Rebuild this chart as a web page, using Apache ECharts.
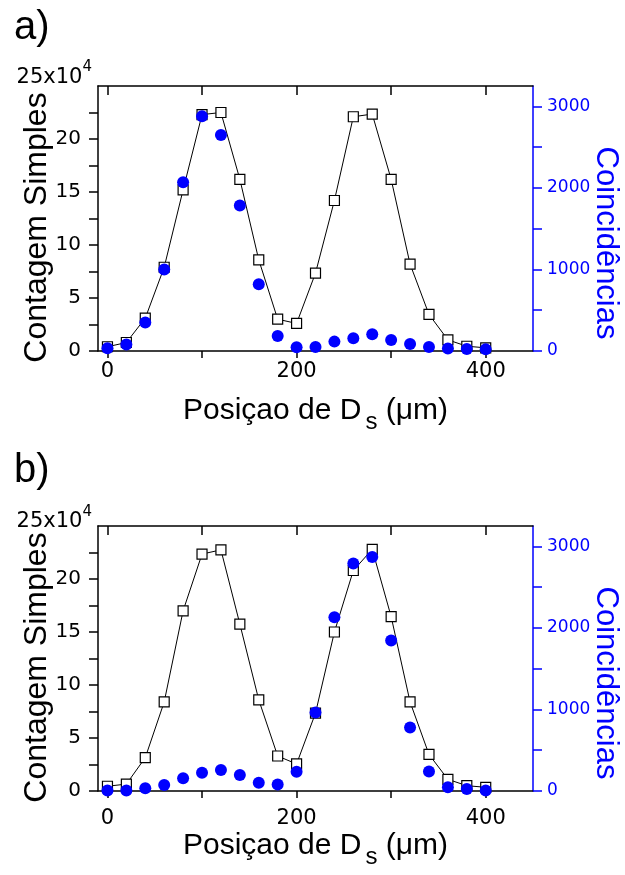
<!DOCTYPE html>
<html>
<head>
<meta charset="utf-8">
<title>Contagem simples e coincidências</title>
<script src="https://cdn.jsdelivr.net/npm/echarts@6.0.0/dist/echarts.min.js"></script>
<style>
  html, body { margin: 0; padding: 0; background: #fff; }
  #chart { width: 625px; height: 875px; }
</style>
</head>
<body>
<div id="chart"></div>
<script>
// posição do detector D_s (µm)
const positions = [0, 20, 40, 60, 80, 100, 120, 140, 160, 180, 200, 220, 240, 260, 280, 300, 320, 340, 360, 380, 400];
// a) contagens simples (x10^4) e coincidências
const singlesA = [0.4, 0.8, 3.1, 7.9, 15.2, 22.3, 22.5, 16.2, 8.6, 3.0, 2.6, 7.35, 14.2, 22.1, 22.35, 16.2, 8.2, 3.45, 1.05, 0.45, 0.3];
const coincA = [35, 80, 350, 1000, 2070, 2880, 2650, 1785, 820, 185, 45, 50, 115, 155, 205, 135, 85, 50, 30, 25, 20];
// b)
const singlesB = [0.45, 0.65, 3.15, 8.4, 17.0, 22.35, 22.75, 15.75, 8.6, 3.3, 2.55, 7.35, 15.0, 20.8, 22.8, 16.45, 8.4, 3.45, 1.1, 0.5, 0.35];
const coincB = [5, 5, 33, 75, 155, 225, 258, 197, 100, 80, 237, 963, 2130, 2790, 2870, 1845, 780, 238, 45, 25, 5];

const xTicks = [0, 100, 200, 300, 400];
const xLabels = [0, 200, 400];
const leftTicks = [0, 2.5, 5, 7.5, 10, 12.5, 15, 17.5, 20, 22.5];
const leftLabels = [0, 5, 10, 15, 20];
const rightTicks = [0, 500, 1000, 1500, 2000, 2500, 3000];
const rightLabels = [0, 1000, 2000, 3000];

const BLUE = '#0000ff';
const titleFont = '"Liberation Sans", Arial, sans-serif';
const tickFont = '"DejaVu Sans", sans-serif';

const chart = echarts.init(document.getElementById('chart'));

function pairs(ys) {
  return positions.map((x, i) => [x, ys[i]]);
}

function xAxes(grid, labelMargin, nameGap) {
  return [{
    type: 'value', gridIndex: grid, position: 'bottom', min: -10, max: 450,
    axisLine: { show: true, onZero: false, lineStyle: { color: '#000', width: 1.5 } },
    axisTick: { show: true, inside: false, length: 7, customValues: xTicks, lineStyle: { color: '#000', width: 1.5 } },
    axisLabel: { customValues: xLabels, margin: labelMargin, color: '#000', fontFamily: tickFont, fontSize: 21, formatter: v => String(v) },
    splitLine: { show: false },
    name: '{n|Posiçao de D}{s|s}{n| (μm)}',
    nameLocation: 'middle',
    nameGap: nameGap,
    nameMoveOverlap: false,
    nameTextStyle: {
      rich: {
        n: { fontFamily: titleFont, fontSize: 30, color: '#000' },
        s: { fontFamily: titleFont, fontSize: 24, color: '#000', padding: [22, 0, 0, 4] }
      }
    }
  }, {
    type: 'value', gridIndex: grid, position: 'top', min: -10, max: 450,
    axisLine: { show: true, onZero: false, lineStyle: { color: '#000', width: 1.5 } },
    axisTick: { show: true, inside: true, length: 9, customValues: xTicks, lineStyle: { color: '#000', width: 1.5 } },
    axisLabel: { show: false },
    splitLine: { show: false }
  }];
}

function yAxes(grid) {
  return [{
    type: 'value', gridIndex: grid, position: 'left', min: 0, max: 25,
    axisLine: { show: true, onZero: false, lineStyle: { color: '#000', width: 1.5 } },
    axisTick: { show: true, inside: false, length: 9, customValues: leftTicks, lineStyle: { color: '#000', width: 1.5 } },
    axisLabel: { customValues: leftLabels, margin: 17, color: '#000', fontFamily: tickFont, fontSize: 20, formatter: v => String(v) },
    splitLine: { show: false },
    name: 'Contagem Simples',
    nameLocation: 'middle',
    nameGap: 45,
    nameMoveOverlap: false,
    nameTextStyle: { fontFamily: titleFont, fontSize: 32, color: '#000', padding: [0, 18, 0, 0] }
  }, {
    type: 'value', gridIndex: grid, position: 'right', min: 0, max: 3250,
    axisLine: { show: true, onZero: false, lineStyle: { color: BLUE, width: 1.5 } },
    axisTick: { show: true, inside: false, length: 9, customValues: rightTicks, lineStyle: { color: BLUE, width: 1.5 } },
    axisLabel: { customValues: rightLabels, margin: 14, color: BLUE, fontFamily: tickFont, fontSize: 17, formatter: v => String(v) },
    splitLine: { show: false },
    name: 'Coincidências',
    nameLocation: 'middle',
    nameRotate: -90,
    nameGap: 57,
    nameMoveOverlap: false,
    nameTextStyle: { fontFamily: titleFont, fontSize: 31, color: BLUE, padding: [0, 0, 0, 49] }
  }];
}

function singlesSeries(xi, yi, ys) {
  return {
    type: 'line', xAxisIndex: xi, yAxisIndex: yi, data: pairs(ys),
    symbol: 'rect', symbolSize: 10, showAllSymbol: true,
    lineStyle: { color: '#000', width: 1 },
    itemStyle: { color: '#fff', borderColor: '#000', borderWidth: 1.2 },
    z: 2
  };
}

function coincSeries(xi, yi, ys) {
  return {
    type: 'scatter', xAxisIndex: xi, yAxisIndex: yi, data: pairs(ys),
    symbol: 'circle', symbolSize: 12,
    itemStyle: { color: BLUE, opacity: 1 },
    z: 3
  };
}

function powerLabel(y) {
  return {
    type: 'text', x: 92, y: y,
    style: {
      text: '{b|25x10}{s|4}',
      align: 'right', verticalAlign: 'middle',
      textAlign: 'right', textVerticalAlign: 'middle',
      rich: {
        b: { fontFamily: tickFont, fontSize: 21, lineHeight: 24, fill: '#000' },
        s: { fontFamily: tickFont, fontSize: 15, lineHeight: 16, fill: '#000', padding: [0, 0, 20, 0] }
      }
    }
  };
}

function panelLabel(text, y) {
  return {
    type: 'text', x: 14, y: y,
    style: {
      text: text, fill: '#000',
      font: '40px "Liberation Sans", Arial, sans-serif',
      verticalAlign: 'middle', textVerticalAlign: 'middle'
    }
  };
}

chart.setOption({
  animation: false,
  backgroundColor: '#fff',
  grid: [
    { left: 98, right: 92, top: 86, height: 265, containLabel: false, outerBoundsMode: 'none' },
    { left: 98, right: 92, top: 526, height: 265, containLabel: false, outerBoundsMode: 'none' }
  ],
  xAxis: [].concat(xAxes(0, 10, 37), xAxes(1, 17, 32)),
  yAxis: [].concat(yAxes(0), yAxes(1)),
  series: [
    singlesSeries(0, 0, singlesA),
    coincSeries(0, 1, coincA),
    singlesSeries(2, 2, singlesB),
    coincSeries(2, 3, coincB)
  ],
  graphic: [
    panelLabel('a)', 28),
    panelLabel('b)', 471),
    powerLabel(77.5),
    powerLabel(521.7)
  ]
});
</script>
</body>
</html>
